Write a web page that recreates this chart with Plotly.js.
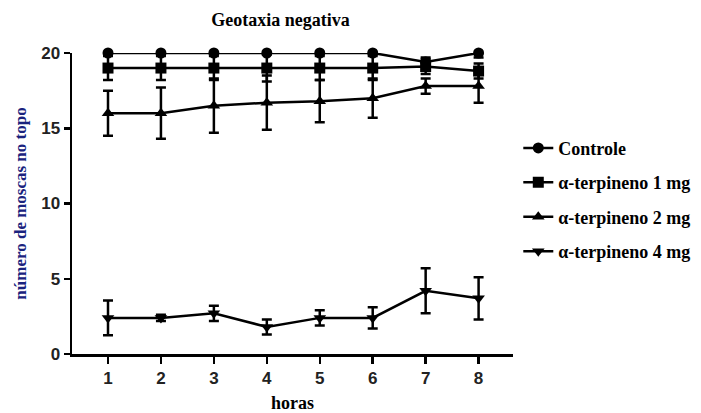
<!DOCTYPE html>
<html><head><meta charset="utf-8">
<script src="https://cdn.plot.ly/plotly-3.0.1.min.js"></script>
<style>html,body{margin:0;padding:0;background:#fff}#c{width:701px;height:413px}</style>
</head><body><div id="c"></div>
<script>
const horas = [1,2,3,4,5,6,7,8];
const seriesNames = ["Controle","α-terpineno 1 mg","α-terpineno 2 mg","α-terpineno 4 mg"];
const controle = [20,20,20,20,20,20,19.4,20];
const controleErr = [0,0,0,0,0,0,0.3,0.3];
const terp1 = [19,19,19,19,19,19,19.1,18.8];
const terp1Err = [0.8,0.8,0.8,0.9,0.8,0.8,0.5,0.5];
const terp2 = [16,16,16.5,16.7,16.8,17,17.8,17.8];
const terp2Err = [1.5,1.7,1.8,1.8,1.4,1.3,0.5,1.1];
const terp4 = [2.4,2.4,2.7,1.8,2.4,2.4,4.2,3.7];
const terp4Err = [1.15,0.2,0.5,0.5,0.5,0.7,1.5,1.4];
const yTicks = [0,5,10,15,20];

const symbols = ["circle","square","triangle-up","triangle-down"];
const vals = [controle, terp1, terp2, terp4];
const errs = [controleErr, terp1Err, terp2Err, terp4Err];

const traces = vals.map((v,i)=>({
  x: horas, y: v, name: seriesNames[i], type:'scatter', mode:'lines+markers',
  legendgroup: 'g'+i,
  line:{color:'#000', width:2.5},
  marker:{symbol:symbols[i], size:11, color:'#000'},
  error_y:{type:'data', array:errs[i], visible:true, color:'#000', thickness:2.5, width:5},
  cliponaxis:false
}));

const layout = {
  width:701, height:413,
  margin:{l:72, r:188, t:53, b:59, autoexpand:false},
  paper_bgcolor:'#fff', plot_bgcolor:'#fff',
  showlegend:true,
  title:{text:'<b>Geotaxia negativa</b>', x:0.4, xanchor:'center', y:0.953, yanchor:'middle',
    font:{family:'Liberation Serif', size:18, color:'#000'}},
  xaxis:{range:[0.32,8.65], tickvals:horas, ticktext:horas.map(String), showgrid:false, zeroline:false,
    automargin:false,
    showline:true, linecolor:'#000', linewidth:2.5, ticks:'outside', ticklen:7, tickwidth:2.5, tickcolor:'#000',
    tickfont:{family:'Liberation Sans', size:17, color:'#222', weight:'bold'},
    title:{text:'<b>horas</b>', standoff:10, font:{family:'Liberation Serif', size:18, color:'#000'}}},
  yaxis:{range:[0,20], tickvals:yTicks, showgrid:false, zeroline:false,
    automargin:false,
    showline:true, linecolor:'#000', linewidth:2.5, ticks:'outside', ticklen:6, tickwidth:2.5, tickcolor:'#000',
    tickfont:{family:'Liberation Sans', size:17, color:'#222', weight:'bold'},
    title:{text:'<b>número de moscas no topo</b>', standoff:10, font:{family:'Liberation Serif', size:17, color:'#1a237e'}}},
  legend:{x:1.012, xanchor:'left', y:0.745, yanchor:'top', tracegroupgap:8, itemwidth:30,
    font:{family:'Liberation Serif', size:18, color:'#000', weight:'bold'}, bgcolor:'rgba(0,0,0,0)'}
};
Plotly.newPlot('c', traces, layout, {displayModeBar:false, staticPlot:true});
</script></body></html>
